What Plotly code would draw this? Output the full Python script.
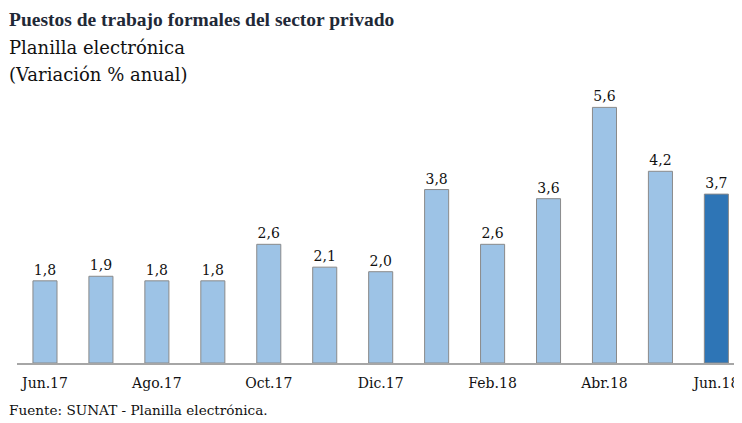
import plotly.graph_objects as go

categories = ["Jun.17", "Jul.17", "Ago.17", "Set.17", "Oct.17", "Nov.17", "Dic.17",
              "Ene.18", "Feb.18", "Mar.18", "Abr.18", "May.18", "Jun.18"]
values = [1.8, 1.9, 1.8, 1.8, 2.6, 2.1, 2.0, 3.8, 2.6, 3.6, 5.6, 4.2, 3.7]
tick_labels = ["Jun.17", "Ago.17", "Oct.17", "Dic.17", "Feb.18", "Abr.18", "Jun.18"]

TITLE_FONT = "Liberation Serif"
FONT = "DejaVu Serif"
colors = ["#9DC3E6"] * (len(values) - 1) + ["#2E75B6"]
texts = [f"{v:.1f}".replace(".", ",") for v in values]

# page body has an 8px margin; figure is sized to fill the rest of the window
W, H = 734, 415
L, R, T, B = 9, 1, 72, 60

fig = go.Figure(go.Bar(
    x=categories, y=values, marker=dict(color=colors, line=dict(color="#8A8A8A", width=1)),
    width=0.43, text=texts, textposition="outside", cliponaxis=False,
    textfont=dict(family=FONT, size=14, color="#111111"), hoverinfo="skip"))

def ann(text, top_px, size, family, color="#111111"):
    # top_px: bottom edge of annotation box, in figure pixels from top
    return dict(text=text, x=(-1 - L) / (W - L - R), y=((H - top_px) - B) / (H - T - B),
                xref="paper", yref="paper", xanchor="left", yanchor="bottom",
                showarrow=False, font=dict(family=family, size=size, color=color))

fig.update_layout(
    width=W, height=H, margin=dict(l=L, r=R, t=T, b=B),
    paper_bgcolor="white", plot_bgcolor="white", showlegend=False,
    font=dict(family=FONT, color="#111111"),
    xaxis=dict(type="category", range=[-0.5, 12.44], tickmode="array",
               tickvals=tick_labels, ticktext=tick_labels, showline=True,
               linecolor="#A6A6A6", linewidth=1.5, ticks="", showgrid=False,
               ticklabelstandoff=6,
               tickfont=dict(family=FONT, size=14, color="#111111")),
    yaxis=dict(range=[0, 6.2], visible=False, showgrid=False, zeroline=False),
    annotations=[
        ann("<b>Puestos de trabajo formales del sector privado</b>", 24, 19.5, TITLE_FONT, "#1F2937"),
        ann("Planilla electrónica", 52, 18, FONT),
        ann("(Variación % anual)", 79, 18, FONT),
        ann("Fuente: SUNAT - Planilla electrónica.", 412, 13.6, FONT),
    ],
)

fig.write_html("out.html")
